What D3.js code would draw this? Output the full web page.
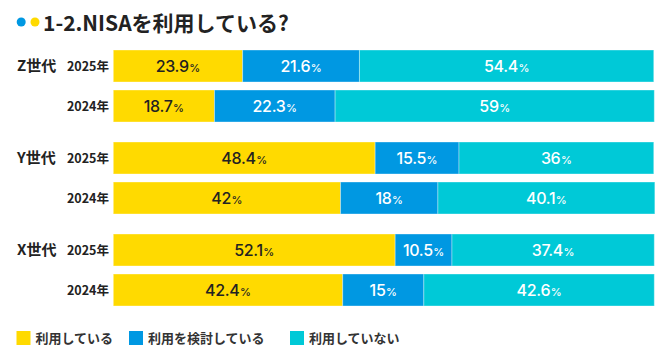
<!DOCTYPE html>
<html><head><meta charset="utf-8">
<script src="https://cdn.jsdelivr.net/npm/d3@7"></script>
<style>body{margin:0;background:#fff}svg{display:block}</style>
</head><body>
<script>
const groups = ["Z世代","Y世代","X世代"];
const years = ["2025年","2024年"];
const seriesNames = ["利用している","利用を検討している","利用していない"];
const colors = ["#FFDA00","#0098E2","#00C9D7"];
const labelColors = ["#222222","#ffffff","#ffffff"];
const using = [[23.9,18.7],[48.4,42],[52.1,42.4]];
const considering = [[21.6,22.3],[15.5,18],[10.5,15]];
const notUsing = [[54.4,59],[36,40.1],[37.4,42.6]];

const W=670,H=364;
const svg=d3.select("body").append("svg").attr("width",W).attr("height",H);
const font="'Noto Sans CJK JP','Noto Sans',sans-serif";
const numFont="Inter,'Noto Sans',sans-serif";

// title
svg.append("circle").attr("cx",21.2).attr("cy",22).attr("r",4.5).attr("fill","#0098E2");
svg.append("circle").attr("cx",35).attr("cy",22).attr("r",4.5).attr("fill","#FFDA00");
svg.append("text").attr("x",43).attr("y",30.5).attr("font-family",font).attr("font-weight",700)
  .attr("font-size",21).attr("fill","#222").text("1-2.NISAを利用している?");

const x=d3.scaleLinear().domain([0,100]).range([113.3,654.3]);
const yG=d3.scaleBand().domain(groups).range([40,316]).paddingInner(20/92).paddingOuter(10/92);
const yY=d3.scaleBand().domain(years).range([0,yG.bandwidth()]).paddingInner(0.2).paddingOuter(0);

const rows=[];
groups.forEach((g,gi)=>years.forEach((yr,yi)=>{
  const vals=[using[gi][yi],considering[gi][yi],notUsing[gi][yi]];
  let c=0;
  const segs=vals.map((v,si)=>{const s={g,yr,si,v,x0:c,x1:c+v};c+=v;return s;});
  rows.push({g,yr,segs,y:yG(g)+yY(yr)});
}));

groups.forEach(g=>{
  svg.append("text").attr("x",17).attr("y",yG(g)+yY(years[0])+yY.bandwidth()/2)
    .attr("dy","0.36em").attr("font-family",font).attr("font-weight",700).attr("font-size",15)
    .attr("fill","#222").text(g);
});

const row=svg.selectAll("g.row").data(rows).enter().append("g").attr("class","row")
  .attr("transform",d=>`translate(0,${d.y})`);
row.append("text").attr("x",109).attr("y",yY.bandwidth()/2).attr("dy","0.36em")
  .attr("text-anchor","end").attr("font-family",font).attr("font-weight",700).attr("font-size",12.5)
  .attr("fill","#222").text(d=>d.yr);
row.selectAll("rect").data(d=>d.segs).enter().append("rect")
  .attr("x",d=>x(d.x0)).attr("width",d=>x(d.x1)-x(d.x0)).attr("y",0).attr("height",yY.bandwidth())
  .attr("fill",d=>colors[d.si]).attr("stroke","rgba(255,255,255,0.35)").attr("stroke-width",1);
const lab=row.selectAll("text.val").data(d=>d.segs).enter().append("text").attr("class","val")
  .attr("x",d=>(x(d.x0)+x(d.x1))/2).attr("y",yY.bandwidth()/2).attr("dy","0.36em")
  .attr("text-anchor","middle").attr("font-family",numFont).attr("font-weight",500)
  .attr("fill",d=>labelColors[d.si]);
lab.append("tspan").attr("font-size",16).attr("letter-spacing","-0.3").text(d=>d.v);
lab.append("tspan").attr("font-size",11).attr("dx",0.5).text("%");

// legend
const legX=[16.5,129,290];
const leg=svg.selectAll("g.leg").data(seriesNames).enter().append("g").attr("class","leg")
  .attr("transform",(d,i)=>`translate(${legX[i]},331)`);
leg.append("rect").attr("width",14).attr("height",14).attr("fill",(d,i)=>colors[i]);
leg.append("text").attr("x",19).attr("y",7).attr("dy","0.36em").attr("font-family",font)
  .attr("font-weight",700).attr("font-size",13).attr("fill","#333").text(d=>d);
</script>
</body></html>
